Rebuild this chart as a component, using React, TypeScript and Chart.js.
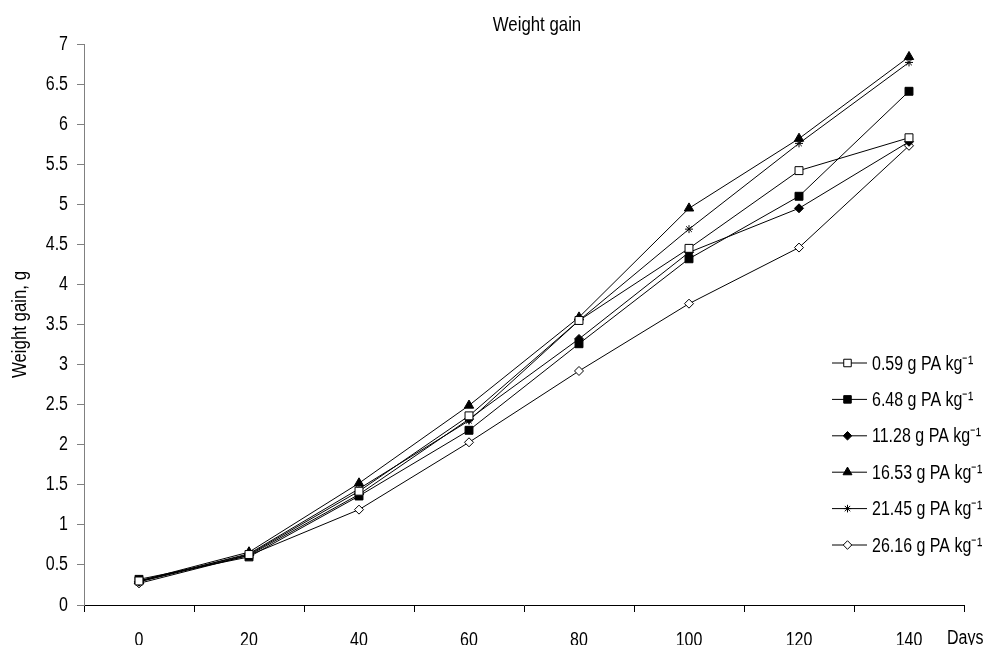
import React, { useEffect, useRef } from "react";
import { Chart, registerables } from "chart.js";
import { drawPoint } from "chart.js/helpers";

Chart.register(...registerables);

const FONT = '"Liberation Sans", Arial, sans-serif';
const NARROW = 0.8; // horizontal compression of all text (Arial Narrow look)

const TITLE = "Weight gain";
const Y_TITLE = "Weight gain, g";
const X_UNIT = "Days";

const days = ["0", "20", "40", "60", "80", "100", "120", "140"];

const seriesLabels = [
  "0.59 g PA kg⁻¹",
  "6.48 g PA kg⁻¹",
  "11.28 g PA kg⁻¹",
  "16.53 g PA kg⁻¹",
  "21.45 g PA kg⁻¹",
  "26.16 g PA kg⁻¹",
];

const s059 = [0.3, 0.63, 1.42, 2.36, 3.55, 4.45, 5.42, 5.83];
const s648 = [0.32, 0.6, 1.36, 2.18, 3.26, 4.32, 5.1, 6.41];
const s1128 = [0.29, 0.62, 1.38, 2.32, 3.32, 4.4, 4.95, 5.78];
const s1653 = [0.3, 0.66, 1.52, 2.49, 3.59, 4.95, 5.82, 6.84];
const s2145 = [0.29, 0.64, 1.45, 2.3, 3.55, 4.69, 5.76, 6.77];
const s2616 = [0.27, 0.62, 1.19, 2.03, 2.92, 3.76, 4.46, 5.73];

const seriesValues = [s059, s648, s1128, s1653, s2145, s2616];

const yMin = 0;
const yMax = 7;
const yStep = 0.5;

const markerStyles = [
  { pointStyle: "rect", fill: "#ffffff", radius: 5.6 },
  { pointStyle: "rect", fill: "#000000", radius: 5.6 },
  { pointStyle: "rectRot", fill: "#000000", radius: 4.5 },
  { pointStyle: "triangle", fill: "#000000", radius: 5.4 },
  { pointStyle: "star", fill: "#000000", radius: 4 },
  { pointStyle: "rectRot", fill: "#ffffff", radius: 4.5 },
];

function narrowText(ctx: any, k: number) {
  if (ctx.__narrowed) return;
  const orig = ctx.fillText.bind(ctx);
  ctx.fillText = (text: string, x: number, y: number, maxWidth?: number) => {
    ctx.save();
    ctx.translate(x, y);
    ctx.scale(k, 1);
    if (maxWidth !== undefined && maxWidth !== null) orig(text, 0, 0, maxWidth / k);
    else orig(text, 0, 0);
    ctx.restore();
  };
  ctx.__narrowed = true;
}

const decorPlugin = {
  id: "decor",
  afterDraw(chart: any) {
    const { ctx, chartArea } = chart;
    ctx.save();
    ctx.fillStyle = "#000";
    // title
    ctx.font = `21px ${FONT}`;
    ctx.textAlign = "center";
    ctx.textBaseline = "alphabetic";
    ctx.fillText(TITLE, (chartArea.left + chartArea.right) / 2 + 13, 23);
    // x unit
    ctx.font = `20px ${FONT}`;
    ctx.textAlign = "left";
    ctx.textBaseline = "top";
    ctx.fillText(X_UNIT, chartArea.right - 17, chartArea.bottom + 23);
    // legend
    const lx0 = chartArea.right - 132;
    const lx1 = lx0 + 35;
    const ly0 = chartArea.top + 319;
    const lstep = 36.4;
    chart.data.datasets.forEach((ds: any, i: number) => {
      const y = ly0 + i * lstep;
      ctx.strokeStyle = "#000";
      ctx.lineWidth = 1;
      ctx.beginPath();
      ctx.moveTo(lx0, y);
      ctx.lineTo(lx1, y);
      ctx.stroke();
      ctx.fillStyle = ds.pointBackgroundColor;
      ctx.strokeStyle = "#000";
      drawPoint(
        ctx,
        { pointStyle: ds.pointStyle, radius: ds.pointRadius * 0.95, borderWidth: 1, rotation: 0 } as any,
        (lx0 + lx1) / 2 - 2,
        y
      );
      ctx.fillStyle = "#000";
      ctx.font = `20px ${FONT}`;
      ctx.textAlign = "left";
      ctx.textBaseline = "middle";
      ctx.fillText(ds.label, lx1 + 5, y + 1);
    });
    ctx.restore();
  },
};

export default function App() {
  const canvasRef = useRef<HTMLCanvasElement | null>(null);

  useEffect(() => {
    if (!canvasRef.current) return;
    const ctx2d = canvasRef.current.getContext("2d");
    narrowText(ctx2d, NARROW);

    const datasets = seriesValues.map((vals, i) => ({
      label: seriesLabels[i],
      data: vals,
      borderColor: "#000",
      borderWidth: 1,
      backgroundColor: markerStyles[i].fill,
      pointStyle: markerStyles[i].pointStyle,
      pointRadius: markerStyles[i].radius,
      pointBackgroundColor: markerStyles[i].fill,
      pointBorderColor: "#000",
      pointBorderWidth: 1,
      tension: 0,
      fill: false,
    }));

    const chart = new Chart(canvasRef.current, {
      type: "line",
      data: { labels: days, datasets },
      options: {
        responsive: false,
        animation: false,
        layout: { padding: { top: 36, right: 23, left: 0, bottom: 0 } },
        plugins: {
          legend: { display: false },
          title: { display: false },
          tooltip: { enabled: false },
        },
        scales: {
          x: {
            type: "category",
            offset: true,
            grid: {
              offset: true,
              drawOnChartArea: false,
              drawTicks: true,
              tickLength: 7,
              color: "#000",
            },
            border: { color: "#000", width: 1 },
            ticks: {
              color: "#000",
              font: { family: FONT, size: 20 },
              padding: 16,
              maxRotation: 0,
              autoSkip: false,
            },
            afterFit: (s: any) => {
              s.height = 48;
            },
          },
          y: {
            min: yMin,
            max: yMax,
            ticks: {
              stepSize: yStep,
              color: "#000",
              font: { family: FONT, size: 20 },
              padding: 9,
              callback: (v: any) => String(Math.round(Number(v) * 10) / 10),
            },
            grid: {
              drawOnChartArea: false,
              drawTicks: true,
              tickLength: 7,
              color: "#808080",
            },
            border: { color: "#808080", width: 1 },
            title: {
              display: true,
              text: Y_TITLE,
              color: "#000",
              font: { family: FONT, size: 21 },
              padding: 0,
            },
            afterFit: (s: any) => {
              s.width = 76;
            },
          },
        },
      },
      plugins: [decorPlugin],
    });
    return () => chart.destroy();
  }, []);

  return (
    <div style={{ width: 979, height: 645, marginBottom: -8 }}>
      <canvas ref={canvasRef} width={979} height={645} style={{ display: "block" }} />
    </div>
  );
}
